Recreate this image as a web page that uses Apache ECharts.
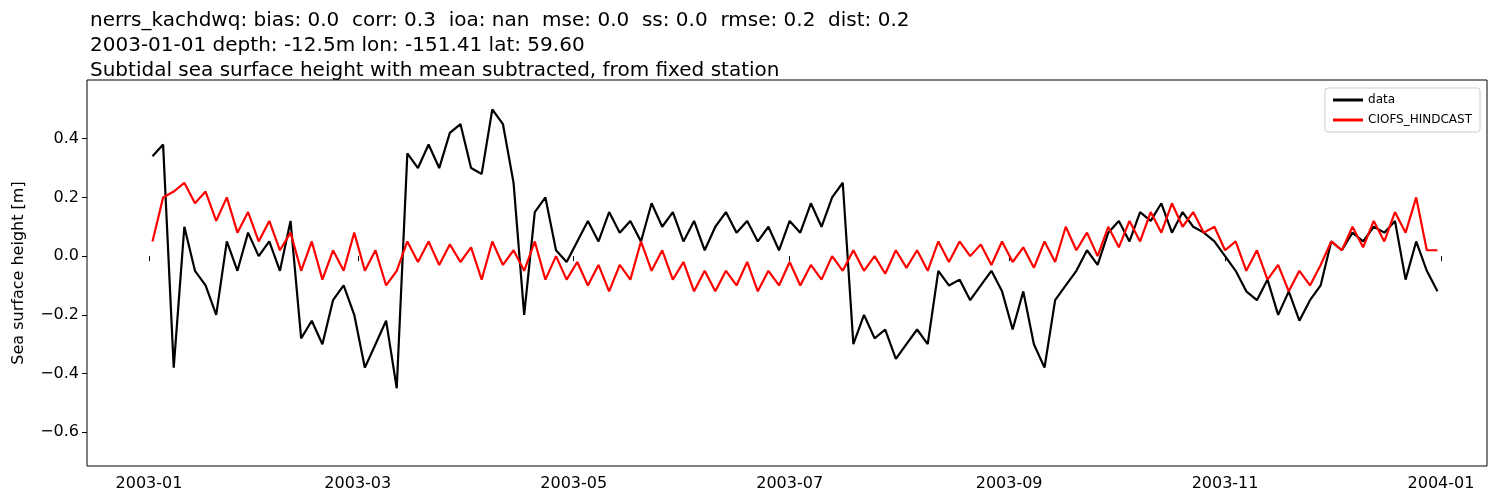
<!DOCTYPE html>
<html><head><meta charset="utf-8">
<script src="https://cdn.jsdelivr.net/npm/echarts@6/dist/echarts.min.js"></script>
<style>html,body{margin:0;padding:0;background:#fff}#c{width:1500px;height:500px}</style>
</head><body><div id="c"></div>
<script>
const titleLines = [
 "nerrs_kachdwq: bias: 0.0  corr: 0.3  ioa: nan  mse: 0.0  ss: 0.0  rmse: 0.2  dist: 0.2",
 "2003-01-01 depth: -12.5m lon: -151.41 lat: 59.60",
 "Subtidal sea surface height with mean subtracted, from fixed station"
];
const tickLabels = ["2003-01","2003-03","2003-05","2003-07","2003-09","2003-11","2004-01"];
const dataValues = [.34,.38,-.38,.1,-.05,-.1,-.2,.05,-.05,.08,0,.05,-.05,.12,-.28,-.22,-.3,-.15,-.1,-.2,-.38,-.3,-.22,-.45,.35,.3,.38,.3,.42,.45,.3,.28,.5,.45,.25,-.2,.15,.2,.02,-.02,.05,.12,.05,.15,.08,.12,.05,.18,.1,.15,.05,.12,.02,.1,.15,.08,.12,.05,.1,.02,.12,.08,.18,.1,.2,.25,-.3,-.2,-.28,-.25,-.35,-.3,-.25,-.3,-.05,-.1,-.08,-.15,-.1,-.05,-.12,-.25,-.12,-.3,-.38,-.15,-.1,-.05,.02,-.03,.08,.12,.05,.15,.12,.18,.08,.15,.1,.08,.05,0,-.05,-.12,-.15,-.08,-.2,-.12,-.22,-.15,-.1,.05,.02,.08,.05,.1,.08,.12,-.08,.05,-.05,-.12];
const modelValues = [.05,.2,.22,.25,.18,.22,.12,.2,.08,.15,.05,.12,.02,.08,-.05,.05,-.08,.02,-.05,.08,-.05,.02,-.1,-.05,.05,-.02,.05,-.03,.04,-.02,.03,-.08,.05,-.03,.02,-.05,.05,-.08,0,-.08,-.02,-.1,-.03,-.12,-.03,-.08,.05,-.05,.02,-.08,-.02,-.12,-.05,-.12,-.05,-.1,-.02,-.12,-.05,-.1,-.02,-.1,-.03,-.08,0,-.05,.02,-.05,0,-.06,.02,-.04,.02,-.05,.05,-.02,.05,0,.04,-.03,.05,-.02,.03,-.04,.05,-.02,.1,.02,.08,0,.1,.03,.12,.05,.15,.08,.18,.1,.15,.08,.1,.02,.05,-.05,.02,-.08,-.03,-.12,-.05,-.1,-.03,.05,.02,.1,.03,.12,.05,.15,.08,.2,.02,.02];
const startDay = Date.UTC(2003,0,2), stepDays = 3, DAY = 86400000;
const pair = v => v.map((y,i)=>[startDay+i*stepDays*DAY, y]);
const tickTimes = tickLabels.map(s=>{const [y,m]=s.split('-').map(Number);return Date.UTC(y,m-1,1);});
const fmt = v=>{const d=new Date(v);return d.getUTCFullYear()+'-'+String(d.getUTCMonth()+1).padStart(2,'0');};
const chart = echarts.init(document.getElementById('c'));
const F = 'DejaVu Sans';
chart.setOption({
 animation:false,
 textStyle:{fontFamily:F},
 title:{text:titleLines.join('\n'),left:85,top:3,textStyle:{fontFamily:F,fontSize:20,fontWeight:'normal',color:'#000',lineHeight:25}},
 grid:{left:87,right:13,top:80,bottom:34,show:true,borderColor:'#000',borderWidth:1},
 legend:{right:20,top:88,orient:'vertical',itemWidth:30,itemHeight:3,itemGap:8,
   backgroundColor:'#fff',borderColor:'#ccc',borderWidth:1,borderRadius:3,padding:[6,8],
   textStyle:{fontFamily:F,fontSize:12,color:'#000'},icon:'rect',
   data:['data','CIOFS_HINDCAST']},
 xAxis:{type:'value',min:Date.UTC(2002,11,14,12),max:Date.UTC(2004,0,14),
   axisLine:{show:false},splitLine:{show:false},
   axisTick:{customValues:tickTimes,length:5,lineStyle:{color:'#000'}},
   axisLabel:{customValues:tickTimes,formatter:fmt,fontSize:16,color:'#000',fontFamily:F,margin:10}},
 yAxis:{type:'value',min:-0.715,max:0.6,name:'Sea surface height [m]',nameLocation:'middle',nameGap:60,
   nameTextStyle:{fontSize:16,color:'#000',fontFamily:F},
   axisLine:{show:false},splitLine:{show:false},
   axisTick:{show:true,customValues:[-0.6,-0.4,-0.2,0,0.2,0.4],length:5,lineStyle:{color:'#000'}},
   axisLabel:{customValues:[-0.6,-0.4,-0.2,0,0.2,0.4],fontSize:16,color:'#000',fontFamily:F,
     formatter:v=>(v<0?'\u2212':'')+Math.abs(v).toFixed(1)}},
 series:[
  {name:'data',type:'line',data:pair(dataValues),showSymbol:false,lineStyle:{color:'#000',width:2.2},itemStyle:{color:'#000'}},
  {name:'CIOFS_HINDCAST',type:'line',data:pair(modelValues),showSymbol:false,lineStyle:{color:'#ff0000',width:2.2},itemStyle:{color:'#ff0000'}}
 ]
});
</script></body></html>
